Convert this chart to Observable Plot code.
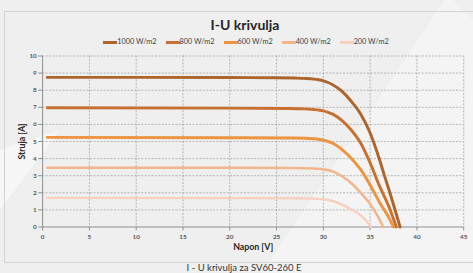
<!DOCTYPE html>
<html>
<head>
<meta charset="utf-8">
<script src="https://cdn.jsdelivr.net/npm/d3@7"></script>
<script src="https://cdn.jsdelivr.net/npm/@observablehq/plot@0.6"></script>
<style>
  html, body { margin: 0; padding: 0; }
  body { width: 473px; height: 273px; overflow: hidden; position: relative; background: #efefef; font-family: Lato, "Open Sans", sans-serif; }
  #wm { position: absolute; left: 0; top: 0; width: 473px; height: 273px; background: #ffffff; opacity: 0.3;
        clip-path: polygon(448px -5px, 262px 273px, 473px 273px, 473px 20px); }
  #wm2 { position: absolute; left: 0; top: 0; width: 473px; height: 273px; background: #ffffff; opacity: 0.5;
        clip-path: polygon(0px 150px, 60px 130px, 0px 210px); }
  #box { position: absolute; left: 4px; top: 11px; width: 500px; height: 252px; border: 1px solid #d4d4d4; box-sizing: border-box; }
  #title { position: absolute; left: 0; width: 490px; top: 16px; text-align: center; font-weight: bold; font-size: 14px; color: #262626; line-height: 18px; }
  #legend { position: absolute; left: 0; width: 492px; top: 37px; display: flex; justify-content: center; gap: 9px; font-size: 7.3px; color: #404040; line-height: 10px; }
  #legend .it { display: flex; align-items: center; }
  #legend .sw { display: inline-block; width: 14px; height: 3px; margin-right: 0px; }
  #chart { position: absolute; left: 5px; top: 48px; }
  #chart svg { display: block; }
  #caption { position: absolute; left: 0; width: 488px; top: 262px; text-align: center; font-size: 9.5px; color: #333; line-height: 11px; }
</style>
</head>
<body>
<div id="wm"></div>
<div id="wm2"></div>
<div id="box"></div>
<div id="title">I-U krivulja</div>
<div id="legend"></div>
<div id="chart"></div>
<div id="caption">I - U krivulja za SV60-260 E</div>
<script>
// Series names and colours
const seriesNames = ["1000 W/m2", "800 W/m2", "600 W/m2", "400 W/m2", "200 W/m2"];
const seriesColors = ["#ad652c", "#c87030", "#ec943f", "#f3b68a", "#f7d0bf"];
const seriesWidths = [3, 3, 3, 2.6, 2.4];

// Voltage [V] and current [A] points per series
const v1000 = [0.5, 10, 20, 25, 27, 28, 29, 29.5, 30, 30.5, 31, 32, 33, 34, 35, 36, 36.5, 37, 37.5, 38.2];
const i1000 = [8.75, 8.75, 8.74, 8.73, 8.71, 8.69, 8.65, 8.61, 8.55, 8.45, 8.32, 7.93, 7.34, 6.6, 5.5, 3.95, 3.05, 2.2, 1.3, 0];
const v800 = [0.5, 20, 26, 28, 29, 29.5, 30, 30.5, 31, 32, 33, 34, 35, 36, 37, 37.8];
const i800 = [6.97, 6.95, 6.93, 6.91, 6.87, 6.84, 6.79, 6.71, 6.6, 6.22, 5.66, 4.9, 3.75, 2.4, 1.2, 0];
const v600 = [0.5, 20, 27, 29, 29.5, 30, 30.5, 31, 32, 33, 34, 35, 36, 37, 37.5];
const i600 = [5.24, 5.22, 5.2, 5.16, 5.13, 5.08, 5.0, 4.9, 4.52, 4.01, 3.35, 2.45, 1.45, 0.55, 0];
const v400 = [0.5, 20, 27, 29, 29.5, 30, 30.5, 31, 32, 33, 34, 35, 35.8, 36.4];
const i400 = [3.47, 3.46, 3.45, 3.42, 3.4, 3.37, 3.32, 3.25, 2.97, 2.56, 2.0, 1.35, 0.65, 0];
const v200 = [0.5, 20, 27, 29, 29.5, 30, 30.5, 31, 32, 33, 34, 34.6, 35.1];
const i200 = [1.7, 1.69, 1.68, 1.66, 1.64, 1.62, 1.58, 1.52, 1.31, 1.03, 0.68, 0.35, 0];

const xTicks = [0, 5, 10, 15, 20, 25, 30, 35, 40, 45];
const yTicks = [0, 1, 2, 3, 4, 5, 6, 7, 8, 9, 10];
const xLabel = "Napon [V]";
const yLabel = "Struja [A]";

const vs = [v1000, v800, v600, v400, v200];
const is = [i1000, i800, i600, i400, i200];
const data = [];
seriesNames.forEach((name, k) => {
  vs[k].forEach((v, j) => data.push({series: name, V: v, I: is[k][j]}));
});

// legend
const leg = document.getElementById("legend");
seriesNames.forEach((n, k) => {
  const it = document.createElement("div");
  it.className = "it";
  it.innerHTML = `<span class="sw" style="background:${seriesColors[k]}"></span><span>${n}</span>`;
  leg.appendChild(it);
});

const chart = Plot.plot({
  width: 479,
  height: 216,
  marginLeft: 38,
  marginRight: 10,
  marginTop: 7.7,
  marginBottom: 33.3,
  style: {background: "transparent", fontFamily: "Lato, sans-serif"},
  x: {domain: [0, 45]},
  y: {domain: [0, 10]},
  color: {domain: seriesNames, range: seriesColors},
  marks: [
    Plot.gridX(xTicks.slice(1), {stroke: "#9a9a9a", strokeOpacity: 0.9, strokeDasharray: "2,1.5", strokeWidth: 0.8}),
    Plot.gridY(yTicks.slice(1), {stroke: "#9a9a9a", strokeOpacity: 0.9, strokeDasharray: "2,1.5", strokeWidth: 0.8}),
    Plot.ruleX([0], {stroke: "#8c8c8c", strokeWidth: 1}),
    Plot.ruleY([0], {stroke: "#8c8c8c", strokeWidth: 1}),
    Plot.axisX(xTicks, {tickSize: 4, tickPadding: 4, stroke: "#8c8c8c", fill: "#595959", fontSize: 6.5, fontWeight: "bold", label: null}),
    Plot.axisY(yTicks, {tickSize: 4, tickPadding: 2, stroke: "#8c8c8c", fill: "#595959", fontSize: 6.5, fontWeight: "bold", label: null}),
    ...seriesNames.map((n, k) =>
      Plot.line(data.filter(d => d.series === n), {x: "V", y: "I", stroke: seriesColors[k], strokeWidth: seriesWidths[k], curve: "monotone-x"})
    ),
    Plot.text([xLabel], {frameAnchor: "bottom", textAnchor: "middle", lineAnchor: "middle", dy: 20.3, fontWeight: "bold", fontSize: 9, fill: "#262626"}),
    Plot.text([yLabel], {frameAnchor: "left", textAnchor: "middle", lineAnchor: "middle", dx: -21.3, rotate: -90, fontWeight: "bold", fontSize: 9, fill: "#262626"})
  ]
});
document.getElementById("chart").appendChild(chart);
</script>
</body>
</html>
